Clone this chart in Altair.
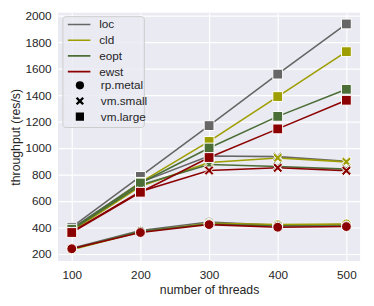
import altair as alt
import pandas as pd

threads = [100, 200, 300, 400, 500]
series = ["loc", "cld", "eopt", "ewst"]
platforms = ["rp.metal", "vm.small", "vm.large"]
colors = ["#666666", "#9e9e00", "#4b6d36", "#8b0000"]

loc_metal = [240, 375, 440, 415, 420]
loc_small = [390, 740, 940, 935, 900]
loc_large = [400, 785, 1170, 1560, 1940]
cld_metal = [230, 365, 430, 420, 425]
cld_small = [370, 710, 890, 925, 895]
cld_large = [375, 740, 1050, 1390, 1730]
eopt_metal = [235, 370, 425, 410, 410]
eopt_small = [380, 720, 875, 860, 840]
eopt_large = [385, 735, 1000, 1240, 1445]
ewst_metal = [237, 360, 420, 400, 405]
ewst_small = [365, 670, 830, 850, 828]
ewst_large = [360, 665, 928, 1145, 1362]

values = {
    "loc": [loc_metal, loc_small, loc_large],
    "cld": [cld_metal, cld_small, cld_large],
    "eopt": [eopt_metal, eopt_small, eopt_large],
    "ewst": [ewst_metal, ewst_small, ewst_large],
}

rows = []
order = 0
for s in series:
    for p, vals in zip(platforms, values[s]):
        for t, v in zip(threads, vals):
            rows.append({"series": s, "platform": p, "threads": t, "tput": v, "ord": order})
            order += 1
df = pd.DataFrame(rows)

x_shape = "M-1,-0.6L-0.6,-1L0,-0.4L0.6,-1L1,-0.6L0.4,0L1,0.6L0.6,1L0,0.4L-0.6,1L-1,0.6L-0.4,0Z"

xenc = alt.X("threads:Q", scale=alt.Scale(domain=[80, 520], nice=False, zero=False),
             axis=alt.Axis(values=threads, title="number of threads", format="d",
                           labelPadding=9, titlePadding=3))
yenc = alt.Y("tput:Q", scale=alt.Scale(domain=[145, 2025], nice=False, zero=False),
             axis=alt.Axis(values=list(range(200, 2001, 200)), title="throughput (res/s)", format="d",
                           labelPadding=7, titlePadding=3))
color_enc = alt.Color("series:N", scale=alt.Scale(domain=series, range=colors),
                      legend=alt.Legend(title=None, orient="none", legendX=9, legendY=4.25,
                                        symbolType="stroke", symbolSize=529, symbolStrokeWidth=1.6,
                                        clipHeight=15.5, rowPadding=0, padding=0, labelOffset=8,
                                        labelFontSize=12, labelColor="#262626",
                                        labelFont="Liberation Sans"))

base = alt.Chart(df)

lines = base.mark_line(strokeWidth=1.6).encode(
    x=xenc, y=yenc, color=color_enc, detail="platform:N", order="ord:Q"
)

points = base.mark_point(filled=True, size=100, stroke="white", strokeWidth=1, opacity=1).encode(
    x=xenc, y=yenc,
    color=alt.Color("series:N", scale=alt.Scale(domain=series, range=colors), legend=None),
    fill=alt.Fill("series:N", scale=alt.Scale(domain=series, range=colors), legend=None),
    shape=alt.Shape("platform:N", scale=alt.Scale(domain=platforms, range=["circle", x_shape, "square"]),
                    legend=alt.Legend(title=None, orient="none", legendX=16.3, legendY=66.25,
                                      symbolFillColor="black", symbolStrokeColor="black",
                                      symbolStrokeWidth=0, symbolSize=70,
                                      clipHeight=15.5, rowPadding=0, padding=0, labelOffset=15.3,
                                      labelFontSize=12, labelColor="#262626",
                                      labelFont="Liberation Sans")),
    order="ord:Q",
)

legend_box = alt.Chart(pd.DataFrame({"k": [0]})).mark_rect(
    fill="#EAEAF2", fillOpacity=0.8, stroke="#cccccc", strokeWidth=1, cornerRadius=3
).encode(x=alt.value(5), x2=alt.value(88), y=alt.value(4), y2=alt.value(117))

chart = alt.layer(lines, points, legend_box).resolve_scale(color="shared").properties(
    width=308, height=253,
    padding={"left": 51, "top": 2, "right": 6, "bottom": 35},
    autosize=alt.AutoSizeParams(type="none"),
).configure_view(fill="#EAEAF2", stroke=None).configure_axis(
    grid=True, gridColor="white", gridWidth=1.2, domain=False, ticks=False,
    labelFont="Liberation Sans", titleFont="Liberation Sans",
    labelFontSize=12, titleFontSize=12.5, labelColor="#262626", titleColor="#262626",
    titleFontWeight="normal",
)

chart.save("out.html", embed_options={"renderer": "svg", "actions": False})
